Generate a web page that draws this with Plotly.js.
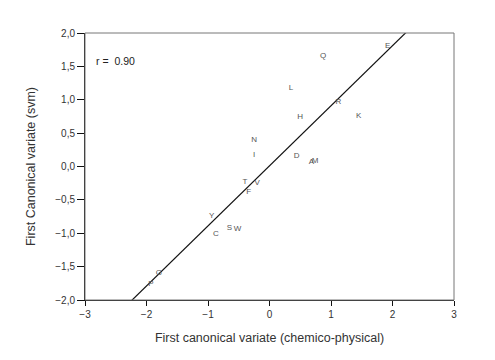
<!DOCTYPE html>
<html>
<head>
<meta charset="utf-8">
<script src="https://cdn.plot.ly/plotly-3.0.1.min.js"></script>
<style>
  body { margin: 0; background: #fff; }
  #chart { width: 495px; height: 360px; }
</style>
</head>
<body>
<div id="chart"></div>
<script>
// sample labels and their scores on the two first canonical variates
var labels = ["E", "Q", "L", "R", "H", "K", "N", "I", "D", "A", "M",
              "T", "V", "F", "Y", "S", "W", "C", "G", "P"];
var chemPhys = [1.92, 0.87, 0.35, 1.12, 0.50, 1.45, -0.25, -0.25, 0.44, 0.68, 0.74,
                -0.40, -0.20, -0.34, -0.94, -0.65, -0.52, -0.87, -1.80, -1.93];
var svm = [1.80, 1.66, 1.18, 0.97, 0.74, 0.76, 0.40, 0.17, 0.15, 0.07, 0.08,
           -0.23, -0.25, -0.38, -0.74, -0.92, -0.93, -1.01, -1.60, -1.76];

// fitted line y = slope * x + intercept
var lineSlope = 0.9;
var lineIntercept = 0.01;
var lineX = [-3, 3];
var lineY = lineX.map(x => lineSlope * x + lineIntercept);

var rValue = "0.90";

var points = {
  x: chemPhys,
  y: svm,
  text: labels,
  mode: "text",
  type: "scatter",
  textposition: "middle center",
  textfont: {family: "Liberation Sans, Arial, sans-serif", size: 8, color: "#555"},
  hoverinfo: "skip"
};

var fit = {
  x: lineX,
  y: lineY,
  mode: "lines",
  type: "scatter",
  line: {color: "#111", width: 1.2},
  hoverinfo: "skip"
};

var data = [fit, points];

var layout = {
  width: 495,
  height: 360,
  margin: {l: 85, r: 41, t: 33, b: 60},
  showlegend: false,
  separators: ",.",
  paper_bgcolor: "#fff",
  plot_bgcolor: "#fff",
  font: {family: "Liberation Sans, Arial, sans-serif", color: "#333", size: 10},
  xaxis: {
    range: [-3, 3],
    tickvals: [-3, -2, -1, 0, 1, 2, 3],
    ticks: "outside",
    ticklen: 5,
    tickcolor: "#111",
    showline: true,
    linecolor: "#111",
    showgrid: false,
    zeroline: false,
    tickfont: {size: 10, color: "#333"},
    title: {text: "First canonical variate (chemico-physical)", font: {size: 12.5, color: "#333"}, standoff: 14}
  },
  yaxis: {
    range: [-2, 2],
    tickvals: [-2, -1.5, -1, -0.5, 0, 0.5, 1, 1.5, 2],
    tickformat: ".1f",
    ticks: "outside",
    ticklen: 7,
    tickcolor: "#111",
    showline: true,
    linecolor: "#111",
    showgrid: false,
    zeroline: false,
    tickfont: {size: 10, color: "#333"},
    title: {text: "First Canonical variate (svm)", font: {size: 12.5, color: "#333"}, standoff: 16}
  },
  shapes: [{
    type: "rect", xref: "paper", yref: "paper",
    x0: 0, x1: 1, y0: 0, y1: 1,
    line: {color: "#777", width: 1}
  }],
  annotations: [{
    xref: "paper", yref: "paper",
    x: 0.025, y: 0.895,
    xanchor: "left", yanchor: "middle",
    text: "r =  " + rValue,
    showarrow: false,
    font: {size: 10.5, color: "#222"}
  }]
};

Plotly.newPlot("chart", data, layout, {displayModeBar: false, staticPlot: true});
</script>
</body>
</html>
